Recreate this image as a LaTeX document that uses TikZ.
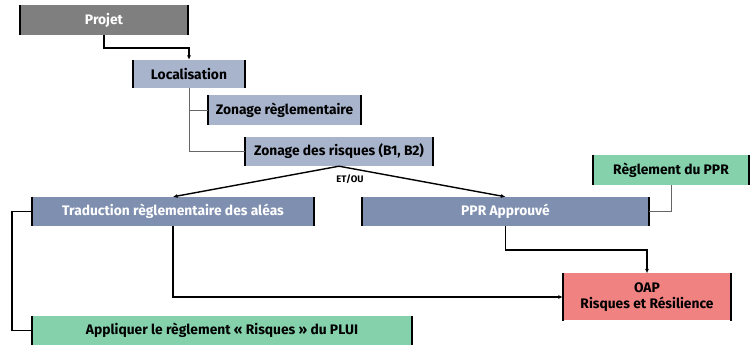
\documentclass[tikz,border=0pt]{standalone}
\usepackage{fontspec}
\setmainfont{Fira Sans}
\usepackage{xcolor}
\usepackage{tikz}
\usetikzlibrary{positioning,arrows.meta}

\definecolor{projgray}{HTML}{7F7F7F}
\definecolor{paleblue}{HTML}{A8B4CC}
\definecolor{darkblue}{HTML}{7F8FB0}
\definecolor{mintgreen}{HTML}{84D1AB}
\definecolor{salmon}{HTML}{F08282}

\tikzset{
    box/.style={fill=#1, inner sep=0pt, minimum height=29pt,
        font=\fontsize{13.8}{16}\selectfont\bfseries, align=center},
    bar/.style={line width=2pt, black},
    link/.style={line width=1.4pt, black},
    thinlink/.style={line width=0.6pt, black!60},
    tip/.style={-{Latex[length=4.5pt,width=4pt]}}
}

\begin{document}
\begin{tikzpicture}[x=1pt, y=-1pt]
    \useasboundingbox (0,0) rectangle (753,347);

    % Steps
    \node[box=projgray, text=white, minimum width=168pt, minimum height=30pt] (proj) at (104,20) {Projet};
    \node[box=paleblue, minimum width=112pt, minimum height=28pt] (loc) at (189,74) {Localisation};
    \node[box=paleblue, minimum width=153pt, minimum height=30pt] (zreg) at (284.5,110) {Zonage règlementaire};
    \node[box=paleblue, minimum width=188pt] (zris) at (339,151.5) {Zonage des risques (B1, B2)};

    % Two routes
    \node[box=darkblue, text=white, minimum width=282pt] (trad) at (173,211.5) {Traduction règlementaire des aléas};
    \node[box=darkblue, text=white, minimum width=286pt] (ppr) at (505.5,211.5) {PPR Approuvé};
    \node[box=mintgreen, minimum width=156pt, minimum height=30pt] (rppr) at (671,170) {Règlement du PPR};

    % Results
    \node[box=salmon, minimum width=168pt, minimum height=47pt] (oap) at (647,297) {OAP\\Risques et Résilience};
    \node[box=mintgreen, minimum width=380pt] (appl) at (222,330.5) {Appliquer le règlement « Risques » du PLUI};

    % Side bars
    \foreach \n in {proj,loc,zreg,zris,trad,ppr,rppr,oap,appl}
        \draw[bar] (\n.north west) -- (\n.south west) (\n.north east) -- (\n.south east);

    % Connections
    \draw[link, tip] (proj.south) -- ++(0,13) -| (loc.north);
    \draw[thinlink] (loc.south) |- (zreg.west);
    \draw[thinlink] (loc.south) |- (zris.west);
    \draw[link, tip] (zris.south) -- (trad.north);
    \draw[link, tip] (zris.south) -- (ppr.north);
    \draw[thinlink] (rppr.south) |- (ppr.east);
    \draw[link, tip] (trad.south) |- (oap.west);
    \draw[link, tip] (ppr.south) -- ++(0,24) -| (oap.north);
    \draw[link] (trad.west) -- ++(-20,0) |- (appl.west);

    % Labels
    \node[font=\fontsize{9.5}{10}\selectfont\bfseries, below=5pt of zris.south, xshift=11pt] (etou) {ET/OU};
\end{tikzpicture}
\end{document}
